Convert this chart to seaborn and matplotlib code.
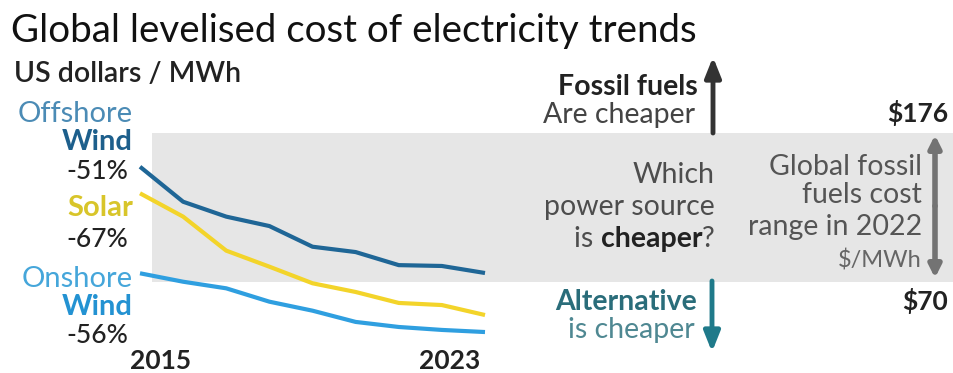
import matplotlib
matplotlib.use("Agg")
import matplotlib.pyplot as plt
import seaborn as sns
import pandas as pd

# ---- data ----
years = [2015, 2016, 2017, 2018, 2019, 2020, 2021, 2022, 2023]
offshore_wind = [152.0, 127.1, 116.5, 109.8, 95.1, 91.3, 82.0, 81.4, 76.4]
solar = [133.1, 116.5, 92.3, 80.9, 69.1, 62.9, 55.1, 53.6, 46.5]
onshore_wind = [76.2, 70.2, 65.5, 56.0, 49.6, 41.6, 38.0, 35.9, 34.4]
fossil_low, fossil_high = 70, 176
series_names = ["Offshore Wind", "Solar", "Onshore Wind"]
changes = ["-51%", "-67%", "-56%"]

df = pd.DataFrame({
    "year": years * 3,
    "cost": offshore_wind + solar + onshore_wind,
    "source": [series_names[0]] * 9 + [series_names[1]] * 9 + [series_names[2]] * 9,
})

sns.set_theme(style="white")
plt.rcParams["font.family"] = ["Lato", "DejaVu Sans"]

W, H = 954, 373
fig = plt.figure(figsize=(W / 100, H / 100), dpi=100)
ax = fig.add_axes([0, 0, 1, 1])

# pixel mapping
px_per_year = (485 - 140) / 8
x0 = 2015 - 140 / px_per_year
x1 = 2015 + (W - 140) / px_per_year
px_per_usd = (282 - 133) / (fossil_high - fossil_low)
y_top = fossil_high + 133 / px_per_usd
y_bot = fossil_low - (H - 282) / px_per_usd
ax.set_xlim(x0, x1)
ax.set_ylim(y_bot, y_top)
ax.axis("off")

ax.axhspan(fossil_low, fossil_high, xmin=152 / W, xmax=1, color="#e6e6e6", zorder=0, lw=0)

palette = {"Offshore Wind": "#1f6696", "Solar": "#f3d42a", "Onshore Wind": "#2f9fe0"}
sns.lineplot(data=df, x="year", y="cost", hue="source", palette=palette,
             linewidth=3.0, legend=False, ax=ax, zorder=3, solid_capstyle="butt")


def T(x, y, s, **kw):
    return fig.text(x / W, 1 - y / H, s, va="baseline", **kw)


FS = 20.5
NUM = 19
# title
T(11, 42, "Global levelised cost of electricity trends", fontsize=27.7, color="#111111")
T(14, 82, "US dollars / MWh", fontsize=20.5, fontweight="semibold", color="#222222")

# left labels
RX = 133
T(RX, 122, "Offshore", ha="right", fontsize=21, color="#4b8bb5")
T(RX, 150, "Wind", ha="right", fontsize=21, fontweight="bold", color="#1d5f8c")
T(RX - 5, 179, changes[0], ha="right", fontsize=NUM, fontweight="medium", color="#222222")
T(RX, 216, "Solar", ha="right", fontsize=21, fontweight="bold", color="#d8c52a")
T(RX - 5, 247, changes[1], ha="right", fontsize=NUM, fontweight="medium", color="#222222")
T(RX, 287, "Onshore", ha="right", fontsize=21, color="#45a6da")
T(RX, 315, "Wind", ha="right", fontsize=21, fontweight="bold", color="#2392d2")
T(RX - 5, 343, changes[2], ha="right", fontsize=NUM, fontweight="medium", color="#222222")

T(161, 369, str(years[0]), ha="center", fontsize=NUM, fontweight="bold", color="#222222")
T(450, 369, str(years[-1]), ha="center", fontsize=NUM, fontweight="bold", color="#222222")

# middle texts
T(698, 95, "Fossil fuels", ha="right", fontsize=FS, fontweight="bold", color="#222222")
T(695, 123, "Are cheaper", ha="right", fontsize=FS, color="#444444")
T(715, 183, "Which", ha="right", fontsize=FS, color="#4d4d4d")
T(715, 215, "power source", ha="right", fontsize=FS, color="#4d4d4d")

renderer = fig.canvas.get_renderer()
xr = 715
for s, w, c in [("?", "normal", "#4d4d4d"), ("cheaper", "bold", "#222222"), ("is ", "normal", "#4d4d4d")]:
    t = T(xr, 247, s, ha="right", fontsize=FS, fontweight=w, color=c)
    bb = t.get_window_extent(renderer=renderer)
    xr = bb.x0

T(697, 310, "Alternative", ha="right", fontsize=FS, fontweight="bold", color="#2a6d7a")
T(695, 338, "is cheaper", ha="right", fontsize=FS, color="#4f8892")

# right texts
T(922, 175, "Global fossil", ha="right", fontsize=FS, color="#555555")
T(922, 203, "fuels cost", ha="right", fontsize=FS, color="#555555")
T(922, 235, "range in 2022", ha="right", fontsize=FS, color="#555555")
T(922, 267, "$/MWh", ha="right", fontsize=17, color="#666666")
T(948, 122, "$" + str(fossil_high), ha="right", fontsize=NUM, fontweight="bold", color="#222222")
T(948, 310, "$" + str(fossil_low), ha="right", fontsize=NUM, fontweight="bold", color="#222222")

# arrows (figure pixels, origin bottom-left)
def arrow(xa, ya, xb, yb, color, style="-|>", lw=3.5, hw=0.4, hl=1.0):
    ax.annotate("", xy=(xb, H - yb), xytext=(xa, H - ya), xycoords="figure pixels",
                textcoords="figure pixels",
                arrowprops=dict(arrowstyle=f"{style},head_width={hw},head_length={hl}",
                                color=color, lw=lw, shrinkA=0, shrinkB=0))

arrow(713, 133, 713, 57, "#333333")
arrow(712, 281, 712, 352, "#1f7a8a")
arrow(935, 206, 935, 135, "#737373", lw=4, hw=0.3, hl=0.6)
arrow(935, 206, 935, 278, "#737373", lw=4, hw=0.3, hl=0.6)

fig.savefig("out.png", dpi=100)
